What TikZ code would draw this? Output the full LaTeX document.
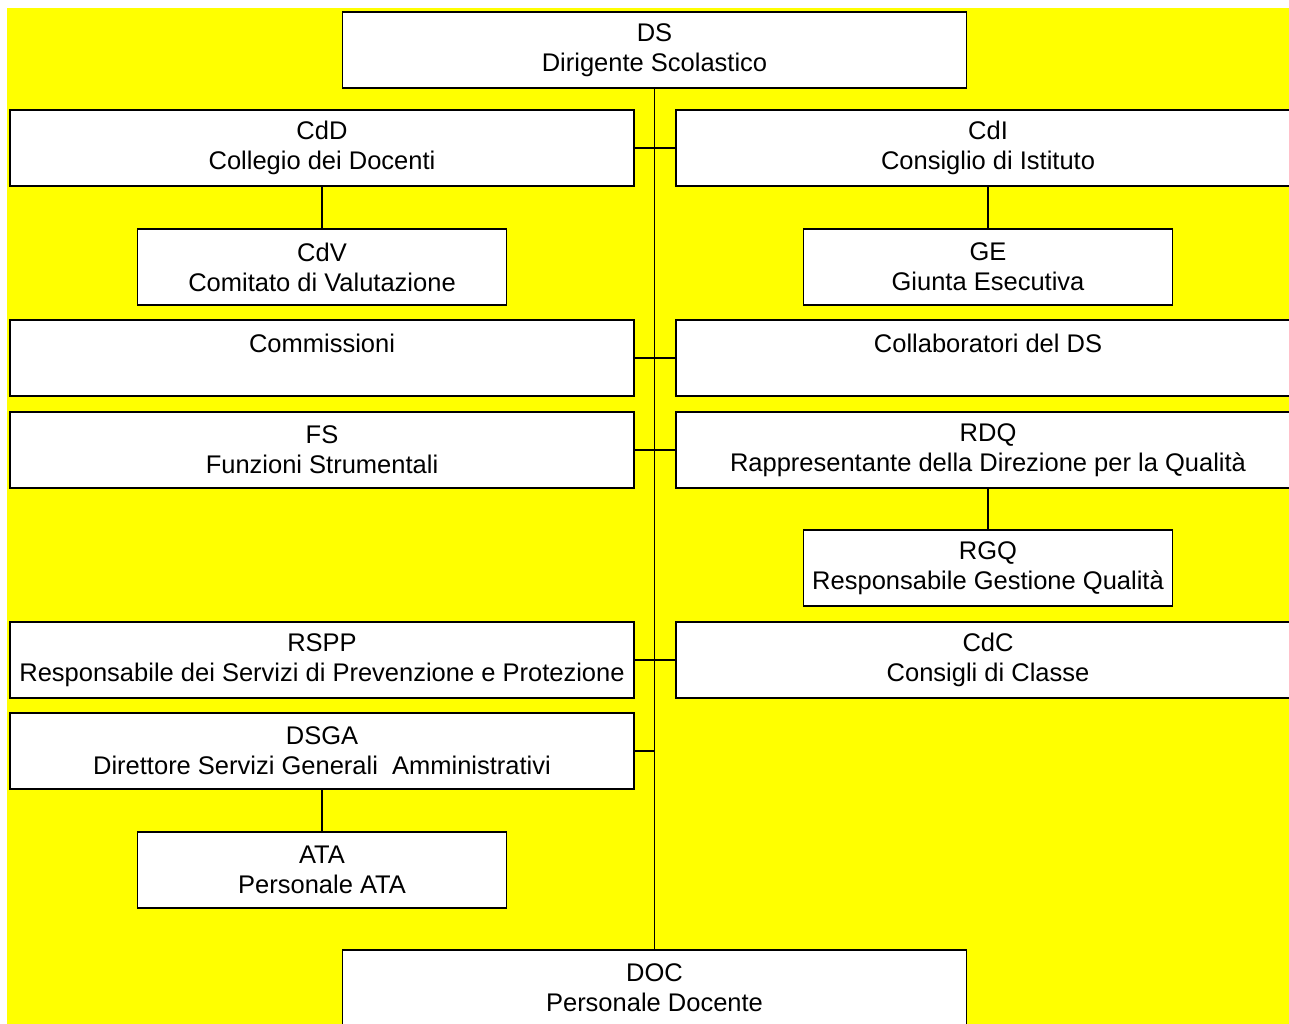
\documentclass[tikz,border=0pt]{standalone}
\usepackage{fontspec}
\setmainfont{Liberation Sans}
\usetikzlibrary{positioning}
\definecolor{sfondo}{RGB}{255,255,0}

\begin{document}
\begin{tikzpicture}[x=1pt, y=-1pt, node distance=43pt and 20pt,
    every node/.style={font=\fontsize{25.5}{30}\selectfont, outer sep=0pt},
    ufficio/.style={rectangle, draw, fill=white, line width=1.6pt, inner sep=0pt,
      minimum height=76pt, align=center},
    grande/.style={ufficio, minimum width=624pt},
    piccolo/.style={ufficio, minimum width=369pt}]
            \clip (0,0) rectangle (1289,1024);
            \fill[sfondo] (7,8) rectangle (1289,1030);

            \node[grande] (DS) at (654.5,50) {DS\\Dirigente Scolastico};

            \node[grande] (CdD) at (322,148) {CdD\\Collegio dei Docenti};
            \node[grande] (CdI) at (988,148) {CdI\\Consiglio di Istituto};
            \node[piccolo] (CdV) [below=of CdD] {CdV\\Comitato di Valutazione};
            \node[piccolo] (GE) [below=of CdI] {GE\\Giunta Esecutiva};

            \node[grande] (Comm) at (322,358) {Commissioni\\~};
            \node[grande] (Coll) at (988,358) {Collaboratori del DS\\~};

            \node[grande] (FS) at (322,450) {FS\\Funzioni Strumentali};
            \node[grande] (RDQ) at (988,450) {RDQ\\Rappresentante della Direzione per la Qualità};
            \node[piccolo] (RGQ) [below=42pt of RDQ] {RGQ\\Responsabile Gestione Qualità};

            \node[grande] (RSPP) at (322,660) {RSPP\\Responsabile dei Servizi di Prevenzione e Protezione};
            \node[grande] (CdC) at (988,660) {CdC\\Consigli di Classe};

            \node[grande] (DSGA) at (322,751) {DSGA\\Direttore Servizi Generali\ \ Amministrativi};
            \node[piccolo] (ATA) [below=of DSGA] {ATA\\Personale ATA};

            \node[grande] (DOC) at (654.5,988) {DOC\\Personale Docente};

            \draw[line width=1.6pt] (DS) -- (DOC);
            \draw[line width=1.6pt] (CdD) -- (CdI);
            \draw[line width=1.6pt] (Comm) -- (Coll);
            \draw[line width=1.6pt] (FS) -- (RDQ);
            \draw[line width=1.6pt] (RSPP) -- (CdC);
            \draw[line width=1.6pt] (DSGA.east) -- (DSGA.east -| DS.south);
            \draw[line width=1.6pt] (CdD) -- (CdV);
            \draw[line width=1.6pt] (CdI) -- (GE);
            \draw[line width=1.6pt] (RDQ) -- (RGQ);
            \draw[line width=1.6pt] (DSGA) -- (ATA);
          \end{tikzpicture}
\end{document}
